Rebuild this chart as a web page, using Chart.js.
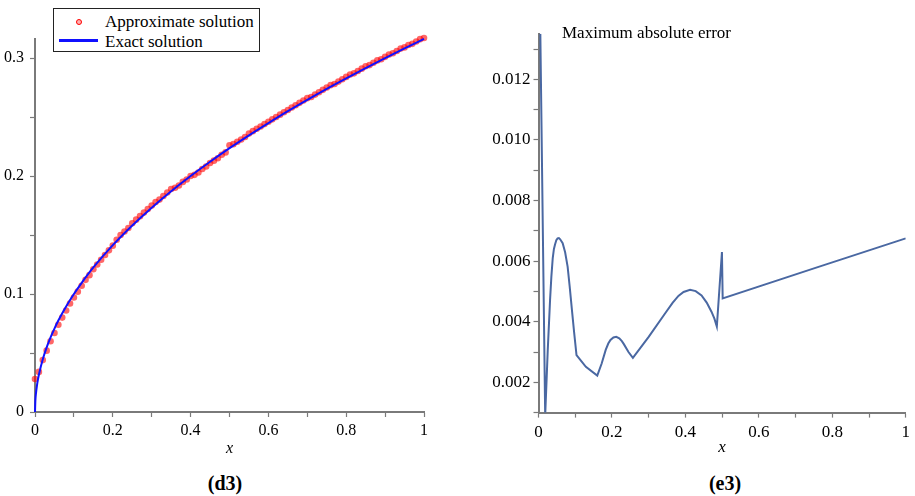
<!DOCTYPE html>
<html>
<head>
<meta charset="utf-8">
<script src="https://cdn.jsdelivr.net/npm/chart.js@4.4.1/dist/chart.umd.min.js"></script>
<style>
  html,body{margin:0;padding:0;background:#fff;}
  body{width:915px;height:496px;position:relative;overflow:hidden;font-family:"Liberation Serif","Times New Roman",serif;color:#000;}
  canvas{position:absolute;}
  #c1{left:0;top:0;}
  #c2{left:460px;top:0;}
  #legend{position:absolute;left:53px;top:8px;width:207px;height:44px;box-sizing:border-box;border:1.5px solid #222;background:#fff;font-size:17px;}
  #legend .row{position:absolute;left:51px;line-height:18px;white-space:nowrap;}
  #legend .dot{position:absolute;left:22px;top:10px;width:4px;height:4px;border:1.3px solid #f00;border-radius:50%;background:#ffb0b0;}
  #legend .ln{position:absolute;left:5px;top:30px;width:39px;height:2.5px;background:#1010ff;}
  #title2{position:absolute;left:562px;top:24px;font-size:17px;line-height:18px;white-space:nowrap;}
  .cap{position:absolute;top:471px;width:100px;text-align:center;font-weight:bold;font-size:20px;line-height:24px;}
</style>
</head>
<body>
<canvas id="c1" width="460" height="462"></canvas>
<canvas id="c2" width="455" height="462"></canvas>
<div id="legend">
  <span class="dot"></span>
  <div class="row" style="top:4px;">Approximate solution</div>
  <span class="ln"></span>
  <div class="row" style="top:24px;">Exact solution</div>
</div>
<div id="title2">Maximum absolute error</div>
<div class="cap" style="left:175px;">(d3)</div>
<div class="cap" style="left:675px;">(e3)</div>
<script>
// ---------- data ----------
const approxX = [0,0.01,0.02,0.03,0.04,0.05,0.06,0.07,0.08,0.09,
  0.10,0.11,0.12,0.13,0.14,0.15,0.16,0.17,0.18,0.19,
  0.20,0.21,0.22,0.23,0.24,0.25,0.26,0.27,0.28,0.29,
  0.30,0.31,0.32,0.33,0.34,0.35,0.36,0.37,0.38,0.39,
  0.40,0.41,0.42,0.43,0.44,0.45,0.46,0.47,0.48,0.49,
  0.50,0.51,0.52,0.53,0.54,0.55,0.56,0.57,0.58,0.59,
  0.60,0.61,0.62,0.63,0.64,0.65,0.66,0.67,0.68,0.69,
  0.70,0.71,0.72,0.73,0.74,0.75,0.76,0.77,0.78,0.79,
  0.80,0.81,0.82,0.83,0.84,0.85,0.86,0.87,0.88,0.89,
  0.90,0.91,0.92,0.93,0.94,0.95,0.96,0.97,0.98,0.99,1.00];
const approxY = [0.028,0.034,0.044,0.052,0.060,0.067,0.074,0.080,0.086,0.092,
  0.097,0.102,0.107,0.112,0.116,0.121,0.125,0.129,0.133,0.137,
  0.141,0.146,0.150,0.153,0.156,0.160,0.163,0.166,0.169,0.172,
  0.175,0.178,0.180,0.183,0.186,0.189,0.190,0.192,0.195,0.197,
  0.200,0.201,0.203,0.206,0.208,0.211,0.213,0.215,0.218,0.220,
  0.226,0.227,0.229,0.231,0.233,0.236,0.238,0.240,0.242,0.244,
  0.246,0.248,0.250,0.252,0.254,0.256,0.258,0.260,0.262,0.264,
  0.266,0.267,0.269,0.271,0.273,0.275,0.277,0.278,0.280,0.282,
  0.284,0.286,0.287,0.289,0.291,0.293,0.294,0.296,0.298,0.299,
  0.301,0.303,0.304,0.306,0.308,0.309,0.311,0.312,0.314,0.316,0.317];
const exactX = [0,0.001,0.0025,0.005,0.0075,0.01,0.02,0.03,0.04,0.05,0.06,0.08,0.10,0.12,0.15,
  0.20,0.25,0.30,0.35,0.40,0.45,0.50,0.55,0.60,0.65,0.70,0.75,0.80,0.85,0.90,0.95,1.00];
const exactY = [0,0.0100,0.0158,0.0224,0.0274,0.0316,0.0447,0.0548,0.0632,0.0707,0.0775,0.0894,0.1000,0.1095,0.1225,
  0.1414,0.1581,0.1732,0.1871,0.2000,0.2121,0.2236,0.2345,0.2449,0.2550,0.2646,0.2739,0.2828,0.2915,0.3000,0.3082,0.3162];

const errX = [0.005,0.0182,0.0252,0.0315,0.035,0.0387,0.042,0.045,0.0485,0.052,0.0555,0.059,0.0658,0.0725,0.0793,0.085,0.091,0.097,0.1035,
  0.129,0.160,0.172,0.183,0.190,0.196,0.204,0.2117,0.220,0.227,0.2324,0.245,0.257,
  0.300,0.345,0.365,0.381,0.395,0.4127,0.428,0.444,0.458,0.471,0.479,0.4856,
  0.4995,0.5015,0.75,1.0];
const errY = [0.0135,0.0009,0.00307,0.00472,0.00548,0.00609,0.00640,0.00655,0.00669,0.00675,0.00676,0.00672,0.00659,0.00629,0.00582,0.00515,0.00439,0.00365,0.0029,
  0.00251,0.00222,0.00262,0.00307,0.00328,0.0034,0.00348,0.0035,0.00345,0.00336,0.00326,0.0030,0.00281,
  0.0035,0.00428,0.00462,0.00485,0.00498,0.00505,0.00501,0.00487,0.00463,0.00433,0.0041,0.00384,
  0.0063,0.00477,0.00576,0.00675];

// ticks
const leftXTicks = [0,0.1,0.2,0.3,0.4,0.5,0.6,0.7,0.8,0.9,1];
const leftXLabels = ['0','','0.2','','0.4','','0.6','','0.8','','1'];
const leftYTicks = [0,0.05,0.1,0.15,0.2,0.25,0.3];
const leftYLabels = ['0','','0.1','','0.2','','0.3'];
const rightXTicks = leftXTicks;
const rightXLabels = leftXLabels;
const rightYTicks = [0.001,0.002,0.003,0.004,0.005,0.006,0.007,0.008,0.009,0.010,0.011,0.012,0.013];
const rightYLabels = ['','0.002','','0.004','','0.006','','0.008','','0.010','','0.012',''];

// ---------- charts ----------
Chart.defaults.font.family = '"Liberation Serif","Times New Roman",serif';
Chart.defaults.font.size = 16;
Chart.defaults.color = '#000';

const pts = (xs, ys) => xs.map((x, i) => ({x: x, y: ys[i]}));
const axisGray = '#7a7a7a';

function xScale(ticks, labels, h, pad, fs) {
  return {
    type: 'linear', min: 0, max: 1,
    afterBuildTicks: s => { s.ticks = ticks.map(v => ({value: v})); },
    afterFit: s => { s.height = h; },
    ticks: {callback: (v, i) => labels[i], padding: pad, maxRotation: 0, autoSkip: false, color: '#000', font: {size: fs}},
    grid: {drawOnChartArea: false, drawTicks: true, tickLength: 5, color: axisGray, tickWidth: 1.2},
    border: {display: true, color: axisGray, width: 2},
    title: {display: true, text: 'x', font: {style: 'italic', size: fs}, color: '#000', padding: {top: 4, bottom: 4}}
  };
}
function yScale(min, max, ticks, labels, w, pad, fs) {
  return {
    type: 'linear', min: min, max: max,
    afterBuildTicks: s => { s.ticks = ticks.map(v => ({value: v})); },
    afterFit: s => { s.width = w; },
    ticks: {callback: (v, i) => labels[i], padding: pad, autoSkip: false, color: '#000', font: {size: fs}},
    grid: {drawOnChartArea: false, drawTicks: true, tickLength: 5, color: axisGray, tickWidth: 1.2},
    border: {display: true, color: axisGray, width: 2}
  };
}

new Chart(document.getElementById('c1'), {
  type: 'line',
  data: {
    datasets: [
      {
        label: 'Exact solution',
        data: pts(exactX, exactY),
        borderColor: '#1010ff', borderWidth: 2,
        pointRadius: 0, fill: false,
        cubicInterpolationMode: 'monotone',
        order: 0, clip: false
      },
      {
        label: 'Approximate solution',
        data: pts(approxX, approxY),
        showLine: false,
        pointStyle: 'circle', pointRadius: 3.3, pointBorderWidth: 0,
        pointBackgroundColor: 'rgba(255,0,0,0.6)',
        order: 1, clip: false
      }
    ]
  },
  options: {
    responsive: false, animation: false,
    layout: {padding: {top: 38.9, right: 36, left: 0, bottom: 0}},
    plugins: {legend: {display: false}, tooltip: {enabled: false}},
    scales: {
      x: xScale(leftXTicks, leftXLabels, 50, 4, 16),
      y: yScale(0, 0.3162, leftYTicks, leftYLabels, 35, 6, 16)
    }
  }
});

new Chart(document.getElementById('c2'), {
  type: 'line',
  data: {
    datasets: [{
      label: 'Maximum absolute error',
      data: pts(errX, errY),
      borderColor: '#4a68a2', borderWidth: 2,
      pointRadius: 0, fill: false, tension: 0, clip: 0
    }]
  },
  options: {
    responsive: false, animation: false,
    layout: {padding: {top: 33.85, right: 6, left: 0, bottom: 0}},
    plugins: {legend: {display: false}, tooltip: {enabled: false}},
    scales: {
      x: xScale(rightXTicks, rightXLabels, 49.4, 5, 17),
      y: yScale(0.001, 0.0135, rightYTicks, rightYLabels, 78.5, 3, 17)
    }
  }
});
</script>
</body>
</html>
